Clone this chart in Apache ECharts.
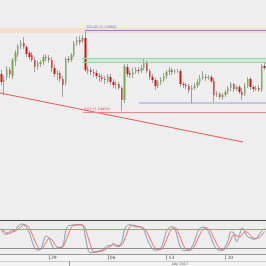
<!DOCTYPE html>
<html><head><meta charset="utf-8">
<script src="https://cdn.jsdelivr.net/npm/echarts@6/dist/echarts.min.js"></script>
<style>html,body{margin:0;padding:0;background:#eeeeee}#c{width:266px;height:266px}</style>
</head><body><div id="c"></div>
<script>
const opens = [1.1585,1.1565,1.15775,1.1595,1.1580,1.16175,1.1635,1.1655,1.16625,1.16525,
1.16375,1.16325,1.1620,1.1605,1.1610,1.1615,1.16275,1.1625,1.1620,1.1600,
1.1585,1.15875,1.15725,1.15625,1.16225,1.1620,1.16325,1.16625,1.1670,1.16675,
1.1675,1.1595,1.1595,1.1590,1.15875,1.1580,1.15775,1.15725,1.15675,1.15775,
1.1565,1.15575,1.1560,1.1550,1.1520,1.16025,1.15875,1.15825,1.1590,1.1595,
1.15925,1.1600,1.16125,1.15925,1.15775,1.1570,1.1555,1.1565,1.1570,1.1580,
1.1590,1.1595,1.1590,1.15925,1.15925,1.1560,1.15575,1.1555,1.1545,1.1550,
1.1555,1.1565,1.1575,1.15775,1.1575,1.15775,1.15675,1.15325,1.1535,1.15275,
1.15325,1.1540,1.1550,1.1560,1.15475,1.15525,1.1540,1.1535,1.1555,1.15725,
1.15525,1.15475,1.1550,1.1545,1.1605];
const closes = [1.1565,1.1570,1.15975,1.1585,1.1620,1.16375,1.1655,1.16625,1.16525,1.1635,
1.16275,1.1620,1.16025,1.16125,1.1615,1.16275,1.1625,1.1620,1.1600,1.1585,
1.15875,1.15725,1.15575,1.16225,1.1620,1.16325,1.16625,1.1670,1.1665,1.1675,
1.1595,1.15925,1.1590,1.15875,1.1580,1.15775,1.15725,1.1570,1.1580,1.1565,
1.15575,1.1560,1.1550,1.1520,1.1605,1.1585,1.15825,1.1590,1.1595,1.15925,
1.1600,1.16125,1.15925,1.15775,1.1570,1.1555,1.1565,1.1570,1.1580,1.1590,
1.1595,1.1590,1.15925,1.15925,1.1560,1.15575,1.1555,1.1545,1.1550,1.1555,
1.1565,1.1575,1.1580,1.1575,1.15775,1.15675,1.15325,1.1535,1.15275,1.15325,
1.1540,1.1550,1.1560,1.15475,1.15525,1.1540,1.15325,1.1555,1.15725,1.15525,
1.15475,1.1550,1.1545,1.1605,1.1600];
const highs = [1.1595,1.1580,1.1605,1.16025,1.1625,1.1645,1.1660,1.1670,1.16775,1.16575,
1.16425,1.1640,1.16275,1.16175,1.1620,1.16325,1.1635,1.16325,1.16275,1.16075,
1.1595,1.15925,1.1580,1.16275,1.1630,1.16375,1.16675,1.16775,1.1680,1.16825,
1.1695,1.1605,1.16025,1.15975,1.1595,1.15875,1.1585,1.1580,1.1585,1.1585,
1.15725,1.15675,1.1565,1.1555,1.1610,1.1610,1.1595,1.1600,1.16025,1.16025,
1.16075,1.1625,1.16175,1.15975,1.1585,1.1575,1.1570,1.15775,1.15875,1.1595,
1.16025,1.1600,1.15975,1.15975,1.15975,1.1565,1.15625,1.1560,1.15575,1.15625,
1.15725,1.15825,1.15925,1.1585,1.15825,1.15825,1.1575,1.15425,1.1540,1.15375,
1.1545,1.1555,1.1565,1.15625,1.15575,1.15575,1.1550,1.15625,1.15775,1.15775,
1.15575,1.1555,1.15575,1.1610,1.1615];
const lows = [1.15575,1.15325,1.1570,1.1575,1.15725,1.1605,1.16275,1.16475,1.16475,1.16275,
1.1620,1.1615,1.1590,1.1595,1.16025,1.16075,1.16175,1.16125,1.1590,1.15775,
1.1570,1.1565,1.15275,1.1555,1.16125,1.1615,1.16275,1.1655,1.16575,1.16625,
1.1590,1.1585,1.15825,1.15775,1.15725,1.1565,1.1565,1.1560,1.15625,1.15575,
1.1550,1.15475,1.1545,1.14925,1.15125,1.15775,1.1575,1.1575,1.1585,1.1585,
1.15875,1.1595,1.15875,1.1570,1.15625,1.1545,1.1550,1.15575,1.1565,1.15725,
1.15825,1.15825,1.1585,1.15875,1.15525,1.1550,1.15475,1.15375,1.15125,1.1545,
1.1550,1.15575,1.1570,1.15675,1.1570,1.15625,1.1515,1.15275,1.15225,1.1520,
1.15275,1.1535,1.15425,1.1540,1.15425,1.1535,1.1520,1.1530,1.1550,1.1545,
1.1540,1.15425,1.1540,1.1540,1.1595];
const stochK = [82,66,64,72,76,78,90,97,96,85,68,40,18,13,15,40,58,52,30,17,
20,22,28,75,92,93,95,95,94,93,55,12,4,5,8,10,12,20,27,28,
34,25,24,40,80,93,95,92,88,88,86,75,50,30,16,12,14,20,45,75,
86,88,80,50,22,12,11,13,22,42,70,84,87,84,72,50,28,15,12,13,
25,45,72,68,40,60,85,70,55,52,48,50,62,75,82];
const stochD = [78,74,68,67,71,75,81,88,94,93,83,64,42,24,15,23,38,50,47,33,
22,20,23,42,65,87,93,94,95,94,81,53,24,7,6,8,10,14,20,25,
30,29,28,30,48,71,89,93,92,89,87,83,70,52,32,19,14,15,26,47,
69,83,85,73,51,28,15,12,15,26,45,65,80,85,81,69,50,31,18,13,
17,28,47,62,60,56,62,72,70,59,52,50,53,62,73];
const tickIndex = [17, 38, 59, 80];
const tickLabels = ['29', '06', '13', '20'];
const monthLabel = 'July 2017';
const fibLevels = [1.1695, 1.16167, 1.1490];
const fibNames = ['100.00', '61.80', '0.00'];
const trendPrices = [1.15375, 1.1415];
const trendIdx = [-0.5, 86.3];
const levelStartIdx = [29.9, 28.8, 29.1];
const supportBand = [1.1515, 1.1510];
const supportStartIdx = 49.1;
const resistBand = [1.1700, 1.16875];
const fibBand = [1.16245, 1.16145];

const N = opens.length;
const categories = opens.map((_, i) => String(i));
const candleData = opens.map((o, i) => [o, closes[i], lows[i], highs[i]]);
const bodyData = opens.map((o, i) => [o, closes[i], Math.min(o, closes[i]), Math.max(o, closes[i])]);
const lbl = (i) => fibNames[i] + ' (' + fibLevels[i].toFixed(5) + ')';
const showTick = (idx) => tickIndex.indexOf(idx) >= 0;

const chart = echarts.init(document.getElementById('c'), null, {renderer: 'canvas'});
chart.setOption({
  animation: false,
  backgroundColor: '#eeeeee',
  grid: [
    {left: 0, right: 0, top: 0, height: 219},
    {left: 0, right: 0, top: 221, height: 33}
  ],
  xAxis: [
    {type: 'category', gridIndex: 0, data: categories, show: false, boundaryGap: true},
    {type: 'value', gridIndex: 0, min: -0.5, max: N - 0.5, show: false},
    {type: 'category', gridIndex: 1, data: categories, boundaryGap: true, z: 10,
     axisLine: {show: true, lineStyle: {color: '#9a9a9a', width: 1}},
     axisTick: {show: true, interval: showTick, alignWithLabel: true, length: 6, lineStyle: {color: '#9a9a9a'}},
     axisLabel: {show: true, interval: showTick, formatter: (v, idx) => tickLabels[tickIndex.indexOf(idx)] || '',
       fontSize: 4.5, color: '#444', margin: 1.5, align: 'left', padding: [0, 0, 0, 2], fontFamily: 'DejaVu Sans'},
     splitLine: {show: false}}
  ],
  yAxis: [
    {type: 'value', gridIndex: 0, min: 1.12225, max: 1.1770, show: false, splitLine: {show: false}, scale: true},
    {type: 'value', gridIndex: 1, min: 0, max: 107, show: false, splitLine: {show: false}}
  ],
  graphic: [
    {type: 'rect', z: 1, shape: {x: 0, y: 254, width: 266, height: 12}, style: {fill: '#f4f4f4'}},
    {type: 'line', z: 2, shape: {x1: 0, y1: 261.5, x2: 266, y2: 261.5}, style: {stroke: '#c8c8c8', lineWidth: 1}},
    {type: 'line', z: 2, shape: {x1: 69.5, y1: 261, x2: 69.5, y2: 266}, style: {stroke: '#9a9a9a', lineWidth: 1}},
    {type: 'line', z: 20, shape: {x1: 0, y1: 220.5, x2: 266, y2: 220.5}, style: {stroke: '#444', lineWidth: 1}},
    {type: 'text', z: 20, style: {text: monthLabel, x: 180, y: 263.8, fontSize: 3.5, fill: '#555',
      textAlign: 'center', textVerticalAlign: 'middle', fontFamily: 'DejaVu Sans'}}
  ],
  series: [
    {name: 'zones', type: 'line', xAxisIndex: 1, yAxisIndex: 0, data: [], silent: true,
     markArea: {silent: true, data: [
       [{xAxis: -0.5, yAxis: resistBand[0], itemStyle: {color: '#f6dfc8'}}, {xAxis: N - 0.5, yAxis: resistBand[1]}],
       [{xAxis: levelStartIdx[1], yAxis: fibBand[0], itemStyle: {color: '#cfe8d1'}}, {xAxis: N - 0.5, yAxis: fibBand[1]}],
       [{xAxis: supportStartIdx, yAxis: supportBand[0], itemStyle: {color: '#c4c7de'}}, {xAxis: N - 0.5, yAxis: supportBand[1]}]
     ]}},
    {name: 'fibEdges', type: 'line', xAxisIndex: 1, yAxisIndex: 0, data: [], silent: true,
     markLine: {silent: true, symbol: ['none', 'none'], label: {show: false}, data: [
       [{coord: [levelStartIdx[1], fibBand[0]], lineStyle: {color: '#a3d3ab', width: 1, type: 'solid'}}, {coord: [N - 0.5, fibBand[0]]}],
       [{coord: [levelStartIdx[1], fibBand[1]], lineStyle: {color: '#a3d3ab', width: 1, type: 'solid'}}, {coord: [N - 0.5, fibBand[1]]}]
     ]}},
    {name: 'wicks', type: 'candlestick', xAxisIndex: 0, yAxisIndex: 0, data: candleData, barWidth: 1,
     itemStyle: {color: '#a0a0a0', color0: '#a0a0a0', borderColor: '#a0a0a0', borderColor0: '#a0a0a0', borderWidth: 1}},
    {name: 'bodies', type: 'candlestick', xAxisIndex: 0, yAxisIndex: 0, data: bodyData, barWidth: 2,
     itemStyle: {color: '#78ab4e', color0: '#cc1212', borderColor: '#78ab4e', borderColor0: '#cc1212', borderWidth: 0}},
    {name: 'fib', type: 'line', xAxisIndex: 1, yAxisIndex: 0, data: [], silent: true,
     markLine: {silent: true, symbol: ['none', 'none'], data: [
       [{coord: [levelStartIdx[0], fibLevels[0]], lineStyle: {color: '#8a8ad4', width: 1, type: 'solid'},
         label: {show: true, position: 'insideStartTop', formatter: lbl(0), color: '#6f6fd8', fontSize: 3.5, distance: 1, fontFamily: 'DejaVu Sans'}},
        {coord: [N - 0.5, fibLevels[0]]}],
       [{coord: [levelStartIdx[1], fibLevels[1]], lineStyle: {color: '#98cfa2', width: 0, opacity: 0},
         label: {show: true, position: 'insideStartTop', formatter: lbl(1), color: '#6a7a6a', fontSize: 3.5, distance: 0, fontFamily: 'DejaVu Sans'}},
        {coord: [N - 0.5, fibLevels[1]]}],
       [{coord: [levelStartIdx[2], fibLevels[2]], lineStyle: {color: '#f08585', width: 1, type: 'solid'},
         label: {show: true, position: 'insideStartTop', formatter: lbl(2), color: '#e05050', fontSize: 3.5, distance: 1, fontFamily: 'DejaVu Sans'}},
        {coord: [N - 0.5, fibLevels[2]]}]
     ]}},
    {name: 'trend', type: 'line', xAxisIndex: 1, yAxisIndex: 0, silent: true, symbol: 'none',
     data: [[trendIdx[0], trendPrices[0]], [trendIdx[1], trendPrices[1]]],
     lineStyle: {color: '#e45858', width: 1}},
    {name: '%K', type: 'line', xAxisIndex: 2, yAxisIndex: 1, data: stochK, symbol: 'none', smooth: 0.4,
     lineStyle: {color: '#8595ad', width: 1},
     markLine: {silent: true, symbol: ['none', 'none'], label: {show: false}, data: [
       {yAxis: 80, lineStyle: {color: '#f07a7a', width: 1, type: 'solid'}},
       {yAxis: 20, lineStyle: {color: '#8c8c8c', width: 1, type: 'solid'}}
     ]}},
    {name: '%D', type: 'line', xAxisIndex: 2, yAxisIndex: 1, data: stochD, symbol: 'none', smooth: 0.4,
     lineStyle: {color: '#e86a6a', width: 1}}
  ]
});
</script>
</body></html>
